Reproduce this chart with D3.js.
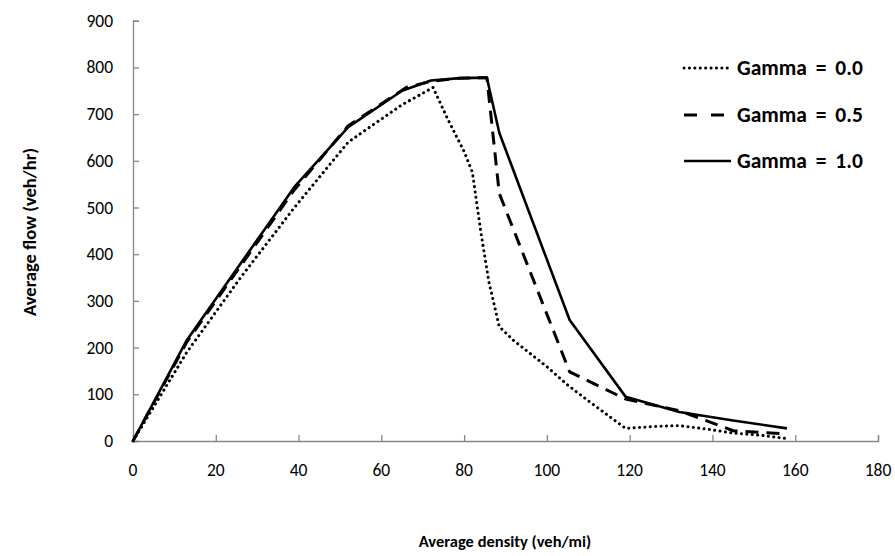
<!DOCTYPE html>
<html>
<head>
<meta charset="utf-8">
<script src="https://cdn.jsdelivr.net/npm/d3@7"></script>
<style>
  body { margin: 0; background: #fff; }
  svg text { font-family: Carlito, Calibri, Lato, "Liberation Sans", sans-serif; fill: #000; }
</style>
</head>
<body>
<svg id="chart" width="895" height="556"></svg>
<script>
// ---- data ----
const xTicks = [0, 20, 40, 60, 80, 100, 120, 140, 160, 180];
const yTicks = [0, 100, 200, 300, 400, 500, 600, 700, 800, 900];
const seriesNames = ["Gamma = 0.0", "Gamma = 0.5", "Gamma = 1.0"];

const gamma00 = [
  [0, 0], [13, 190], [26, 350], [39, 500], [52, 640], [65, 720], [72.5, 757],
  [76, 690], [80, 620], [82, 575], [84, 450], [86, 340], [88.5, 245],
  [92, 215], [96, 187], [100, 159], [105, 120], [110, 86], [119, 27],
  [126, 31], [132, 33], [139, 25], [145, 17], [152, 12], [158, 5]
];
const gamma05 = [
  [0, 0], [13, 212], [26, 375], [39, 538], [52, 675], [66, 757], [72, 770],
  [79, 777], [85.5, 778], [88.5, 530], [105.5, 148], [119, 90],
  [132, 65], [145, 22], [158, 15]
];
const gamma10 = [
  [0, 0], [13, 216], [26, 380], [39, 544], [52, 672], [65, 750], [72, 772],
  [79, 777], [85.5, 778], [88.5, 660], [105.5, 259], [119, 95],
  [132, 62], [145, 44], [158, 27]
];

const xTitle = "Average density (veh/mi)";
const yTitle = "Average flow (veh/hr)";

// ---- chart ----
const svg = d3.select("#chart");
const x = d3.scaleLinear().domain([0, 180]).range([133, 878]);
const y = d3.scaleLinear().domain([0, 900]).range([441, 20.7]);
const axisColor = "#868686";

const xAxis = svg.append("g").attr("transform", `translate(0,${y(0)})`)
  .call(d3.axisTop(x).tickValues(xTicks).tickSize(6).tickFormat(""));
const yAxis = svg.append("g").attr("transform", `translate(${x(0)},0)`)
  .call(d3.axisRight(y).tickValues(yTicks).tickSize(6).tickFormat(""));
[xAxis, yAxis].forEach(g => {
  g.selectAll("path, line").attr("stroke", axisColor).attr("stroke-width", 1.3);
});

svg.append("g").selectAll("text").data(xTicks).join("text")
  .attr("x", d => x(d)).attr("y", 476)
  .attr("text-anchor", "middle").attr("font-size", 17.5)
  .text(d => d);
svg.append("g").selectAll("text").data(yTicks).join("text")
  .attr("x", 113).attr("y", d => y(d) + 6)
  .attr("text-anchor", "end").attr("font-size", 17.5)
  .text(d => d);

svg.append("text").attr("x", 505).attr("y", 547)
  .attr("text-anchor", "middle").attr("font-size", 16.5).attr("font-weight", "bold")
  .text(xTitle);
svg.append("text").attr("transform", "translate(36,232) rotate(-90)")
  .attr("text-anchor", "middle").attr("font-size", 18.5).attr("font-weight", "bold")
  .text(yTitle);

const styles = [
  { dash: "0.1 5.3", width: 3, cap: "round" },
  { dash: "13 8", width: 3, cap: "butt" },
  { dash: null, width: 2.6, cap: "butt" }
];
const line = d3.line().x(d => x(d[0])).y(d => y(d[1]));
[gamma00, gamma05, gamma10].forEach((data, i) => {
  svg.append("path").datum(data)
    .attr("d", line)
    .attr("fill", "none").attr("stroke", "#000")
    .attr("stroke-width", styles[i].width)
    .attr("stroke-linecap", styles[i].cap)
    .attr("stroke-linejoin", "round")
    .attr("stroke-dasharray", styles[i].dash);
});

// legend
const legendY = [68, 115, 161];
seriesNames.forEach((name, i) => {
  svg.append("line")
    .attr("x1", 684).attr("x2", 731)
    .attr("y1", legendY[i]).attr("y2", legendY[i])
    .attr("stroke", "#000").attr("stroke-width", styles[i].width)
    .attr("stroke-linecap", styles[i].cap)
    .attr("stroke-dasharray", i === 1 ? "13 14" : styles[i].dash);
  svg.append("text").attr("x", 737).attr("y", legendY[i] + 6.5)
    .attr("font-size", 21.5).attr("font-weight", "bold")
    .attr("word-spacing", 4)
    .text(name);
});
</script>
</body>
</html>
